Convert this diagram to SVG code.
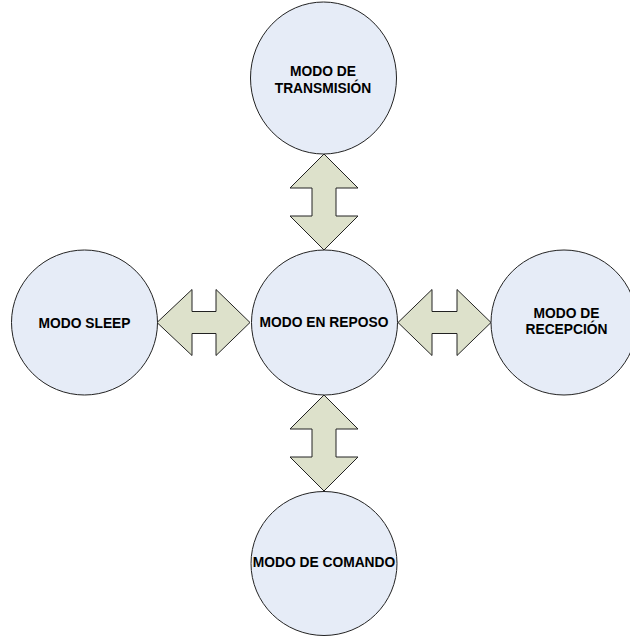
<svg xmlns="http://www.w3.org/2000/svg" width="630" height="637" viewBox="0 0 630 637">
<style>
.node{fill:#E6ECF7;stroke:#222;stroke-width:1}
.arr{fill:#DDE1CB;stroke:#222;stroke-width:1;stroke-linejoin:miter}
.lbl{font-family:"Liberation Sans",Arial,sans-serif;font-weight:bold;font-size:13.8px;fill:#000;text-anchor:middle}
</style>
<rect width="630" height="637" fill="#fff"/>
<g id="connectors">
<polygon class="arr" points="324,154 358,188 336,188 336,216 358,216 324,250 290,216 312,216 312,188 290,188"/>
<polygon class="arr" points="324,395 358,429 336,429 336,457 358,457 324,491 290,457 312,457 312,429 290,429"/>
<polygon class="arr" points="157,322.5 192,289.5 192,311.5 216,311.5 216,289.5 250,322.5 216,355.5 216,333.5 192,333.5 192,355.5"/>
<polygon class="arr" points="398,322.5 432,289.5 432,311.5 457,311.5 457,289.5 491,322.5 457,355.5 457,333.5 432,333.5 432,355.5"/>
</g>
<g id="transmision">
<ellipse class="node" cx="323.5" cy="78" rx="73" ry="76"/>
<text class="lbl" x="323" y="76">MODO DE</text>
<text class="lbl" x="323" y="92.5">TRANSMISIÓN</text>
</g>
<g id="reposo">
<ellipse class="node" cx="324.5" cy="322.5" rx="73" ry="72.5"/>
<text class="lbl" x="324" y="327">MODO EN REPOSO</text>
</g>
<g id="sleep">
<ellipse class="node" cx="84.5" cy="322.5" rx="73" ry="72.5"/>
<text class="lbl" x="84.5" y="327.5">MODO SLEEP</text>
</g>
<g id="recepcion">
<ellipse class="node" cx="564" cy="322.5" rx="73" ry="72.5"/>
<text class="lbl" x="566.5" y="317.5">MODO DE</text>
<text class="lbl" x="566.5" y="334">RECEPCIÓN</text>
</g>
<g id="comando">
<ellipse class="node" cx="324" cy="563.5" rx="73" ry="72"/>
<text class="lbl" x="324" y="567">MODO DE COMANDO</text>
</g>
</svg>
